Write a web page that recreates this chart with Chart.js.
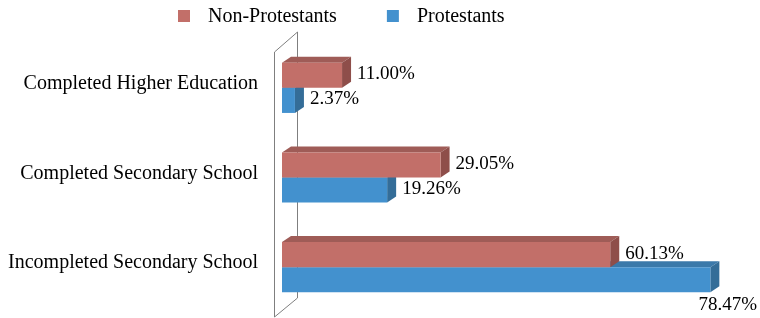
<!DOCTYPE html>
<html>
<head>
<meta charset="utf-8">
<script src="https://cdn.jsdelivr.net/npm/chart.js@4"></script>
<style>
html,body{margin:0;padding:0;background:#fff;}
#wrap{width:760px;height:318px;}
</style>
</head>
<body>
<div id="wrap"><canvas id="c" width="760" height="318"></canvas></div>
<script>
const categories = ['Completed Higher Education', 'Completed Secondary School', 'Incompleted Secondary School'];
const seriesNames = ['Non-Protestants', 'Protestants'];
const nonProtestants = [11.00, 29.05, 60.13];
const protestants = [2.37, 19.26, 78.47];

const FONT = "'Liberation Serif', 'DejaVu Serif', serif";
const frontColors = ['#C26F69', '#4391CE'];
const topColors = ['#9F5C57', '#3B79AA'];
const sideColors = ['#8E4E4A', '#346D98'];
const DX = 9, DY = 6;

const threeD = {
  id: 'threeD',
  beforeDatasetsDraw(chart) {
    const ctx = chart.ctx;
    const ca = chart.chartArea;
    ctx.save();
    ctx.strokeStyle = '#7f7f7f';
    ctx.lineWidth = 1;
    const fx = ca.left - 7.5, bx = ca.left + 15.5;
    ctx.beginPath();
    ctx.moveTo(fx, ca.top + 9);
    ctx.lineTo(bx, ca.top - 11);
    ctx.lineTo(bx, ca.bottom - 14);
    ctx.lineTo(fx, ca.bottom + 5);
    ctx.closePath();
    ctx.stroke();
    for (let d = chart.data.datasets.length - 1; d >= 0; d--) {
      const meta = chart.getDatasetMeta(d);
      meta.data.forEach(bar => {
        const x0 = bar.base, x1 = bar.x;
        const top = bar.y - bar.height / 2, bottom = bar.y + bar.height / 2;
        ctx.fillStyle = topColors[d];
        ctx.beginPath();
        ctx.moveTo(x0, top);
        ctx.lineTo(x0 + DX, top - DY);
        ctx.lineTo(x1 + DX, top - DY);
        ctx.lineTo(x1, top);
        ctx.closePath();
        ctx.fill();
        ctx.fillStyle = sideColors[d];
        ctx.beginPath();
        ctx.moveTo(x1, top);
        ctx.lineTo(x1 + DX, top - DY);
        ctx.lineTo(x1 + DX, bottom - DY);
        ctx.lineTo(x1, bottom);
        ctx.closePath();
        ctx.fill();
      });
    }
    ctx.restore();
  },
  afterDatasetsDraw(chart) {
    const ctx = chart.ctx;
    ctx.save();
    ctx.font = '19px ' + FONT;
    ctx.fillStyle = '#000';
    ctx.textBaseline = 'middle';
    chart.data.datasets.forEach((ds, d) => {
      const meta = chart.getDatasetMeta(d);
      meta.data.forEach((bar, i) => {
        const txt = ds.data[i].toFixed(2) + '%';
        const w = ctx.measureText(txt).width;
        let x = bar.x + DX + 6;
        let y = bar.y - 1;
        if (x + w > chart.width - 2) {
          x = chart.width - 3 - w;
          y = bar.y + bar.height / 2 + 13;
        }
        ctx.textAlign = 'left';
        ctx.fillText(txt, x, y);
      });
    });
    ctx.font = '20px ' + FONT;
    ctx.textBaseline = 'middle';
    let lx = 178;
    seriesNames.forEach((n, i) => {
      ctx.fillStyle = frontColors[i];
      ctx.fillRect(lx, 10, 12, 12);
      ctx.fillStyle = '#000';
      ctx.fillText(n, lx + 30, 17);
      lx = lx + 30 + ctx.measureText(n).width + 50;
    });
    ctx.restore();
  }
};

new Chart(document.getElementById('c'), {
  type: 'bar',
  data: {
    labels: categories,
    datasets: [
      { label: seriesNames[0], data: nonProtestants, backgroundColor: frontColors[0], borderWidth: 0 },
      { label: seriesNames[1], data: protestants, backgroundColor: frontColors[1], borderWidth: 0 }
    ]
  },
  options: {
    indexAxis: 'y',
    responsive: false,
    animation: false,
    barPercentage: 1,
    categoryPercentage: 0.56,
    layout: { padding: { top: 43, bottom: 6, left: 0, right: 14 } },
    plugins: { legend: { display: false }, tooltip: { enabled: false } },
    scales: {
      x: { display: false, min: 0, max: 85 },
      y: {
        grid: { display: false, drawTicks: false },
        border: { display: false },
        ticks: { color: '#000', padding: 24, labelOffset: -4, font: { family: FONT, size: 20 } },
        afterFit(scale) { scale.width = 282; scale.paddingTop = 0; scale.paddingBottom = 0; }
      }
    }
  },
  plugins: [threeD]
});
</script>
</body>
</html>
